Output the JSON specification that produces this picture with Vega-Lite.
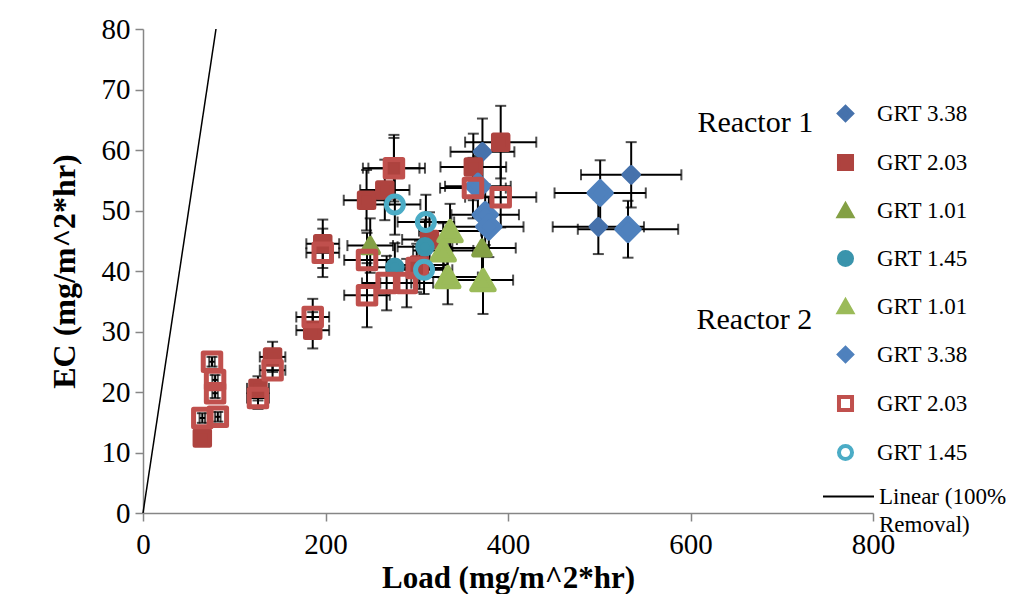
{
  "$schema": "https://vega.github.io/schema/vega-lite/v6.json",
  "width": 730,
  "height": 484,
  "autosize": "none",
  "padding": {"left": 143, "top": 29, "right": 143, "bottom": 81},
  "background": "white",
  "config": {
    "view": {"stroke": null},
    "font": "Liberation Serif",
    "axis": {
      "grid": false,
      "domainColor": "#868686",
      "domainWidth": 1.5,
      "tickColor": "#868686",
      "tickWidth": 1.5,
      "tickSize": 8,
      "labelFont": "Liberation Serif",
      "labelFontSize": 29,
      "labelColor": "black",
      "titleFont": "Liberation Serif",
      "titleFontSize": 32,
      "titleFontWeight": "bold",
      "titleColor": "black"
    },
    "legend": {
      "labelFont": "Liberation Serif",
      "labelFontSize": 23,
      "labelColor": "black"
    }
  },
  "datasets": {
    "points": [
      {"series": "R1 GRT 3.38", "load": 535, "ec": 55.9, "load_err": 55, "ec_err": 5.4},
      {"series": "R1 GRT 3.38", "load": 499, "ec": 47.3, "load_err": 50, "ec_err": 4.5},
      {"series": "R1 GRT 3.38", "load": 372, "ec": 59.7, "load_err": 35, "ec_err": 5.5},
      {"series": "R1 GRT 2.03", "load": 392, "ec": 61.3, "load_err": 39, "ec_err": 6},
      {"series": "R1 GRT 2.03", "load": 362, "ec": 57.2, "load_err": 36, "ec_err": 5.5},
      {"series": "R1 GRT 2.03", "load": 275, "ec": 57, "load_err": 34, "ec_err": 5.5},
      {"series": "R1 GRT 2.03", "load": 245, "ec": 51.7, "load_err": 25, "ec_err": 5},
      {"series": "R1 GRT 2.03", "load": 265, "ec": 53.4, "load_err": 27, "ec_err": 5},
      {"series": "R1 GRT 2.03", "load": 197, "ec": 44.5, "load_err": 18, "ec_err": 4},
      {"series": "R1 GRT 2.03", "load": 186, "ec": 30.2, "load_err": 18, "ec_err": 3},
      {"series": "R1 GRT 2.03", "load": 142, "ec": 25.8, "load_err": 14, "ec_err": 2.5},
      {"series": "R1 GRT 2.03", "load": 126, "ec": 20.6, "load_err": 12, "ec_err": 2},
      {"series": "R1 GRT 2.03", "load": 65, "ec": 12.4, "load_err": 5, "ec_err": 1},
      {"series": "R1 GRT 2.03", "load": 314, "ec": 45.2, "load_err": 30, "ec_err": 4.5},
      {"series": "R1 GRT 2.03", "load": 303, "ec": 41, "load_err": 30, "ec_err": 4},
      {"series": "R1 GRT 1.01", "load": 371.5, "ec": 43.8, "load_err": 37, "ec_err": 5},
      {"series": "R1 GRT 1.01", "load": 249, "ec": 44.2, "load_err": 25, "ec_err": 4.5},
      {"series": "R1 GRT 1.45", "load": 309, "ec": 44, "load_err": 30, "ec_err": 4.5},
      {"series": "R1 GRT 1.45", "load": 276, "ec": 40.6, "load_err": 28, "ec_err": 4},
      {"series": "R2 GRT 1.01", "load": 336.5, "ec": 46.6, "load_err": 34, "ec_err": 4.5},
      {"series": "R2 GRT 1.01", "load": 329, "ec": 43.4, "load_err": 33, "ec_err": 4.5},
      {"series": "R2 GRT 1.01", "load": 334, "ec": 39, "load_err": 33, "ec_err": 4.5},
      {"series": "R2 GRT 1.01", "load": 372.6, "ec": 38.5, "load_err": 33, "ec_err": 5.6},
      {"series": "R2 GRT 3.38", "load": 501, "ec": 52.9, "load_err": 50, "ec_err": 5.4},
      {"series": "R2 GRT 3.38", "load": 531.5, "ec": 46.9, "load_err": 55, "ec_err": 4.7},
      {"series": "R2 GRT 3.38", "load": 375, "ec": 49.3, "load_err": 37, "ec_err": 5},
      {"series": "R2 GRT 3.38", "load": 379, "ec": 47.3, "load_err": 38, "ec_err": 5},
      {"series": "R2 GRT 3.38", "load": 367, "ec": 54, "load_err": 36, "ec_err": 5},
      {"series": "R2 GRT 2.03", "load": 75.6, "ec": 25, "load_err": 3, "ec_err": 0.8},
      {"series": "R2 GRT 2.03", "load": 79, "ec": 22, "load_err": 3, "ec_err": 0.8},
      {"series": "R2 GRT 2.03", "load": 79, "ec": 19.8, "load_err": 3, "ec_err": 0.8},
      {"series": "R2 GRT 2.03", "load": 65, "ec": 15.7, "load_err": 3, "ec_err": 0.8},
      {"series": "R2 GRT 2.03", "load": 82, "ec": 15.9, "load_err": 3, "ec_err": 0.8},
      {"series": "R2 GRT 2.03", "load": 142, "ec": 23.6, "load_err": 14, "ec_err": 1.5},
      {"series": "R2 GRT 2.03", "load": 126, "ec": 19, "load_err": 12, "ec_err": 1.8},
      {"series": "R2 GRT 2.03", "load": 186, "ec": 32.4, "load_err": 18, "ec_err": 3},
      {"series": "R2 GRT 2.03", "load": 197, "ec": 43, "load_err": 18, "ec_err": 4},
      {"series": "R2 GRT 2.03", "load": 245.5, "ec": 41.8, "load_err": 25, "ec_err": 4.5},
      {"series": "R2 GRT 2.03", "load": 245.5, "ec": 36, "load_err": 25, "ec_err": 5.3},
      {"series": "R2 GRT 2.03", "load": 267, "ec": 38, "load_err": 27, "ec_err": 4.5},
      {"series": "R2 GRT 2.03", "load": 289, "ec": 38, "load_err": 29, "ec_err": 4},
      {"series": "R2 GRT 2.03", "load": 300, "ec": 40.5, "load_err": 30, "ec_err": 4},
      {"series": "R2 GRT 2.03", "load": 361.6, "ec": 53.7, "load_err": 36, "ec_err": 5},
      {"series": "R2 GRT 2.03", "load": 392, "ec": 52.2, "load_err": 39, "ec_err": 5},
      {"series": "R2 GRT 2.03", "load": 275, "ec": 57, "load_err": 28, "ec_err": 5},
      {"series": "R2 GRT 1.45", "load": 276, "ec": 51, "load_err": 28, "ec_err": 5},
      {"series": "R2 GRT 1.45", "load": 310, "ec": 48.1, "load_err": 31, "ec_err": 4.5},
      {"series": "R2 GRT 1.45", "load": 308, "ec": 40.2, "load_err": 31, "ec_err": 4}
    ],
    "line": [
      {"load": 0, "ec": 0},
      {"load": 80, "ec": 80}
    ],
    "notes": [
      {"load": 671, "ec": 64.5, "label": "Reactor 1"},
      {"load": 670, "ec": 31.9, "label": "Reactor 2"}
    ]
  },
  "layer": [
    {
      "data": {"name": "line"},
      "mark": {"type": "line", "color": "black", "strokeWidth": 1.5},
      "encoding": {
        "x": {
          "field": "load", "type": "quantitative",
          "scale": {"domain": [0, 800], "nice": false},
          "axis": {"values": [0, 200, 400, 600, 800], "labelPadding": 9, "titlePadding": 4, "titleFontSize": 31, "labelFlush": false},
          "title": "Load (mg/m^2*hr)"
        },
        "y": {
          "field": "ec", "type": "quantitative",
          "scale": {"domain": [0, 80], "nice": false},
          "axis": {"values": [0, 10, 20, 30, 40, 50, 60, 70, 80], "labelPadding": 5, "titlePadding": 20, "labelFlush": false},
          "title": "EC (mg/m^2*hr)"
        },
        "strokeDash": {
          "datum": "Linear (100% Removal)",
          "scale": {"range": [[1, 0]]},
          "legend": {
            "title": null,
            "orient": "none",
            "legendX": 679,
            "legendY": 441,
            "symbolType": "stroke",
            "symbolSize": 2601,
            "symbolStrokeWidth": 2,
            "symbolStrokeColor": "black",
            "labelOffset": 4,
            "labelExpr": "['Linear (100%', 'Removal)']",
            "encode": {"labels": {"update": {"lineHeight": {"value": 28}}}}
          }
        }
      }
    },
    {
      "data": {"name": "points"},
      "mark": {"type": "errorbar", "ticks": true, "size": 11, "thickness": 2, "color": "black"},
      "encoding": {
        "x": {"field": "load", "type": "quantitative", "title": "Load (mg/m^2*hr)"},
        "xError": {"field": "load_err"},
        "y": {"field": "ec", "type": "quantitative", "title": "EC (mg/m^2*hr)"}
      }
    },
    {
      "data": {"name": "points"},
      "mark": {"type": "errorbar", "ticks": true, "size": 11, "thickness": 2, "color": "black"},
      "encoding": {
        "y": {"field": "ec", "type": "quantitative", "title": "EC (mg/m^2*hr)"},
        "yError": {"field": "ec_err"},
        "x": {"field": "load", "type": "quantitative", "title": "Load (mg/m^2*hr)"}
      }
    },
    {
      "data": {"name": "points"},
      "mark": {"type": "point", "opacity": 1, "strokeWidth": 5, "strokeJoin": "round"},
      "encoding": {
        "x": {"field": "load", "type": "quantitative", "title": "Load (mg/m^2*hr)"},
        "y": {"field": "ec", "type": "quantitative", "title": "EC (mg/m^2*hr)"},
        "shape": {
          "field": "series", "type": "nominal",
          "scale": {
            "domain": ["R1 GRT 3.38", "R1 GRT 2.03", "R1 GRT 1.01", "R1 GRT 1.45", "R2 GRT 1.01", "R2 GRT 3.38", "R2 GRT 2.03", "R2 GRT 1.45"],
            "range": ["diamond", "square", "triangle-up", "circle", "triangle-up", "diamond", "square", "circle"]
          },
          "legend": {"title": null, "orient": "none", "legendX": 691, "legendY": 73, "rowPadding": 18, "labelOffset": 20, "symbolSize": 170, "symbolStrokeWidth": 4, "labelExpr": "slice(datum.label, 3)"}
        },
        "fill": {
          "field": "series", "type": "nominal",
          "scale": {
            "domain": ["R1 GRT 3.38", "R1 GRT 2.03", "R1 GRT 1.01", "R1 GRT 1.45", "R2 GRT 1.01", "R2 GRT 3.38", "R2 GRT 2.03", "R2 GRT 1.45"],
            "range": ["#4672AC", "#AE433F", "#84A045", "#3A94AC", "#9BBB59", "#4F81BD", "transparent", "transparent"]
          },
          "legend": {"title": null, "orient": "none", "legendX": 691, "legendY": 73, "rowPadding": 18, "labelOffset": 20, "symbolSize": 170, "symbolStrokeWidth": 4, "labelExpr": "slice(datum.label, 3)"}
        },
        "stroke": {
          "field": "series", "type": "nominal",
          "scale": {
            "domain": ["R1 GRT 3.38", "R1 GRT 2.03", "R1 GRT 1.01", "R1 GRT 1.45", "R2 GRT 1.01", "R2 GRT 3.38", "R2 GRT 2.03", "R2 GRT 1.45"],
            "range": ["#4672AC", "#AE433F", "#84A045", "#3A94AC", "#9BBB59", "#4F81BD", "#C0504D", "#4BACC6"]
          },
          "legend": {"title": null, "orient": "none", "legendX": 691, "legendY": 73, "rowPadding": 18, "labelOffset": 20, "symbolSize": 170, "symbolStrokeWidth": 4, "labelExpr": "slice(datum.label, 3)"}
        },
        "size": {
          "field": "series", "type": "nominal",
          "scale": {
            "type": "ordinal",
            "domain": ["R2 GRT 1.45", "R2 GRT 2.03", "R2 GRT 3.38", "R2 GRT 1.01", "R1 GRT 1.45", "R1 GRT 1.01", "R1 GRT 2.03", "R1 GRT 3.38"],
            "range": [289, 306, 500, 500, 210, 270, 210, 210]
          },
          "legend": null
        }
      }
    },
    {
      "data": {"name": "notes"},
      "mark": {"type": "text", "font": "Liberation Serif", "fontSize": 30, "color": "black", "align": "center", "baseline": "middle"},
      "encoding": {
        "x": {"field": "load", "type": "quantitative", "title": "Load (mg/m^2*hr)"},
        "y": {"field": "ec", "type": "quantitative", "title": "EC (mg/m^2*hr)"},
        "text": {"field": "label"}
      }
    }
  ]
}
